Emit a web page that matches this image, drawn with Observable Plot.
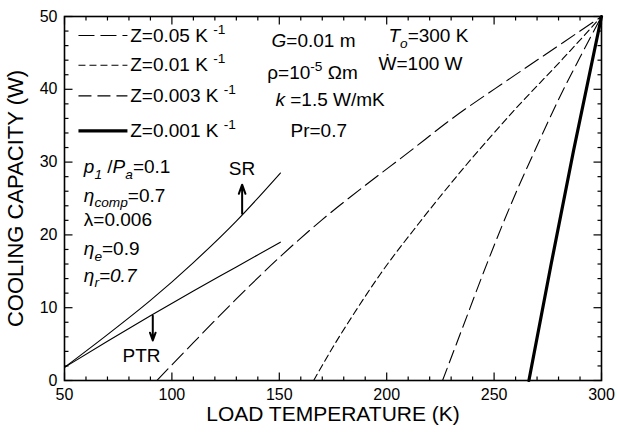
<!DOCTYPE html>
<html><head><meta charset="utf-8">
<script src="https://cdn.jsdelivr.net/npm/d3@7"></script>
<script src="https://cdn.jsdelivr.net/npm/@observablehq/plot@0.6"></script>
<style>body{margin:0;background:#fff}</style>
</head><body><div id="chart"></div>
<script>
// ---- axis ticks ----
const xTickLabels = [50, 100, 150, 200, 250, 300];
const yTickLabels = [0, 10, 20, 30, 40, 50];
const xMinorTicks = [60, 70, 80, 90, 110, 120, 130, 140, 160, 170, 180, 190, 210, 220, 230, 240, 260, 270, 280, 290];
const yMinorTicks = [2, 4, 6, 8, 12, 14, 16, 18, 22, 24, 26, 28, 32, 34, 36, 38, 42, 44, 46, 48];

// ---- series (load temperature K, cooling capacity W) ----
const z005K = [93, 110, 130, 150, 170, 190, 210, 231, 258, 282, 300];
const z005W = [0, 5.2, 11.2, 16.9, 22.1, 26.8, 31.3, 36.1, 41.6, 46.4, 50];
const z001K = [166, 175, 185, 197, 215, 237, 259, 282, 300];
const z001W = [0, 4.6, 9.3, 14.6, 21.6, 29.6, 37.0, 44.2, 50];
const z0003K = [226, 235, 247, 258, 269, 280, 290, 300];
const z0003W = [0, 7.0, 16.3, 24.3, 31.6, 38.6, 44.4, 50];
const z0001K = [266.2, 276.5, 287, 300];
const z0001W = [0, 15.9, 31.6, 50];
const srK = [50, 70, 90, 110, 130, 150.5];
const srW = [1.8, 6.3, 11.0, 16.2, 21.9, 28.5];
const ptrK = [50, 70, 90, 110, 130, 150.5];
const ptrW = [1.8, 5.4, 8.9, 12.3, 15.6, 19.0];

const seriesNames = ["Z=0.05 K ^{-1}", "Z=0.01 K ^{-1}", "Z=0.003 K ^{-1}", "Z=0.001 K ^{-1}"];

// ---- annotations (markup: *italic*, _{sub}, ^{sup}) ----
const annText = ["*G*=0.01 m", "ρ=10^{-5} Ωm", "*k* =1.5 W/mK", "Pr=0.7", "*T*_{*o*}=300 K", "Ẇ=100 W",
  "*p*_{*1*} /*P*_{*a*}=0.1", "*η*_{*comp*}=0.7", "λ=0.006", "*η*_{*e*}=0.9", "*η*_{*r*}*=0.7*", "SR", "PTR"];
const annK = [146.4, 144.4, 148.2, 155.2, 200.8, 196.2, 59, 59, 59, 59, 59, 126.5, 77];
const annW = [46.7, 42.3, 38.5, 34.3, 47.3, 43.5, 29.3, 25.4, 22.0, 18.1, 14.4, 29.1, 3.4];

// arrows
const arrowK = [132.7, 91.1];
const arrowFromW = [22.9, 8.9];
const arrowToW = [26.9, 5.5];

// legend layout (data units)
const legendW = [47.4, 43.3, 39.1, 34.3];
const legendSampleK = [56.5, 79.3];
const legendTextK = 80.6;

// ---- layout ----
const W = 618, H = 439, mL = 64, mR = 17, mT = 16, mB = 59;
const xDom = [50, 300], yDom = [0, 50];
const pxPerK = (W - mL - mR) / (xDom[1] - xDom[0]);
const pxPerW = (H - mT - mB) / (yDom[1] - yDom[0]);
const majorLen = 8, minorLen = 4;

// ---- build tables ----
const mk = (K, Wv) => K.map((k, i) => ({K: k, W: Wv[i]}));
const styles = [
  {data: mk(z005K, z005W), w: 1.1, dash: "16,6"},
  {data: mk(z001K, z001W), w: 1.1, dash: "7,4"},
  {data: mk(z0003K, z0003W), w: 1.1, dash: "13,6"},
  {data: mk(z0001K, z0001W), w: 3.2, dash: null}
];
const ann = annText.map((t, i) => ({t, K: annK[i], W: annW[i]}));
const arrows = arrowK.map((k, i) => ({k, a: arrowFromW[i], b: arrowToW[i]}));
const legend = seriesNames.map((n, i) => ({n, W: legendW[i], w: styles[i].w, dash: styles[i].dash}));

// inward tick segments (pixel lengths converted to data units)
const tickRows = [];
const addX = (vals, len) => vals.forEach(v => {
  tickRows.push({x1: v, x2: v, y1: yDom[0], y2: yDom[0] + len / pxPerW});
  tickRows.push({x1: v, x2: v, y1: yDom[1], y2: yDom[1] - len / pxPerW});
});
const addY = (vals, len) => vals.forEach(v => {
  tickRows.push({y1: v, y2: v, x1: xDom[0], x2: xDom[0] + len / pxPerK});
  tickRows.push({y1: v, y2: v, x1: xDom[1], x2: xDom[1] - len / pxPerK});
});
addX(xTickLabels, majorLen); addX(xMinorTicks, minorLen);
addY(yTickLabels, majorLen); addY(yMinorTicks, minorLen);

const marks = [];
marks.push(Plot.link(tickRows, {x1: "x1", x2: "x2", y1: "y1", y2: "y2", stroke: "black", strokeWidth: 1.2}));
for (const s of styles) {
  marks.push(Plot.line(s.data, {x: "K", y: "W", stroke: "black", strokeWidth: s.w,
    strokeDasharray: s.dash || undefined, curve: "monotone-x"}));
}
marks.push(Plot.line(mk(srK, srW), {x: "K", y: "W", stroke: "black", strokeWidth: 1.1, curve: "monotone-x"}));
marks.push(Plot.line(mk(ptrK, ptrW), {x: "K", y: "W", stroke: "black", strokeWidth: 1.1, curve: "monotone-x"}));
marks.push(Plot.arrow(arrows, {x1: "k", x2: "k", y1: "a", y2: "b", stroke: "black", strokeWidth: 2, headLength: 9, headAngle: 40}));
// legend samples
for (const l of legend) {
  marks.push(Plot.link([l], {x1: () => legendSampleK[0], x2: () => legendSampleK[1], y1: "W", y2: "W",
    stroke: "black", strokeWidth: l.w, strokeDasharray: l.dash || undefined}));
}
marks.push(Plot.text(legend, {x: () => legendTextK, y: "W", text: "n", textAnchor: "start", lineAnchor: "middle", fontSize: 19, fill: "black"}));
marks.push(Plot.text(ann, {x: "K", y: "W", text: "t", textAnchor: "start", lineAnchor: "middle", fontSize: 19, fill: "black"}));

// tick labels
marks.push(Plot.text(xTickLabels, {x: d => d, frameAnchor: "bottom", dy: 8, lineAnchor: "top", textAnchor: "middle", text: d => String(d), fontSize: 16, fill: "black"}));
marks.push(Plot.text(yTickLabels, {y: d => d, frameAnchor: "left", dx: -7, textAnchor: "end", lineAnchor: "middle", text: d => String(d), fontSize: 16, fill: "black"}));
// axis titles
marks.push(Plot.text(["LOAD TEMPERATURE (K)"], {frameAnchor: "bottom", dy: 34, lineAnchor: "middle", textAnchor: "middle", text: d => d, fontSize: 21, fill: "black"}));
marks.push(Plot.text(["COOLING CAPACITY (W)"], {frameAnchor: "left", dx: -49, rotate: -90, lineAnchor: "middle", textAnchor: "middle", text: d => d, fontSize: 22, fill: "black"}));
marks.push(Plot.frame({stroke: "black", strokeWidth: 1.6}));

const svg = Plot.plot({
  width: W, height: H,
  marginLeft: mL, marginRight: mR, marginTop: mT, marginBottom: mB,
  x: {domain: xDom, axis: null},
  y: {domain: yDom, axis: null},
  style: {fontFamily: "'Liberation Sans', Arial, Helvetica, sans-serif", fontSize: "16px", background: "white", color: "black"},
  marks
});
document.getElementById("chart").appendChild(svg);

// ---- rich text post-processing ----
function parseMarkup(s) {
  const parts = []; let italic = false; let mode = null; let buf = "";
  const push = () => { if (buf) parts.push({t: buf, i: italic, s: mode}); buf = ""; };
  for (let j = 0; j < s.length; j++) {
    const c = s[j];
    if (c === "*") { push(); italic = !italic; }
    else if ((c === "_" || c === "^") && s[j + 1] === "{") { push(); mode = c === "_" ? "sub" : "sup"; j++; }
    else if (c === "}" && mode) { push(); mode = null; }
    else buf += c;
  }
  push();
  return parts;
}
const markupSet = new Set([...annText, ...seriesNames]);
d3.select(svg).selectAll("text").each(function () {
  const s = this.textContent;
  if (!markupSet.has(s)) return;
  const parts = parseMarkup(s);
  const sel = d3.select(this);
  sel.text(null);
  const fs = 19; let shift = 0;
  for (const p of parts) {
    const target = p.s === "sub" ? fs * 0.3 : p.s === "sup" ? -fs * 0.42 : 0;
    const ts = sel.append("tspan").text(p.t);
    if (target !== shift) ts.attr("dy", target - shift);
    shift = target;
    if (p.s) ts.attr("font-size", fs * 0.72);
    if (p.i) ts.attr("font-style", "italic");
  }
});
</script>
</body></html>
